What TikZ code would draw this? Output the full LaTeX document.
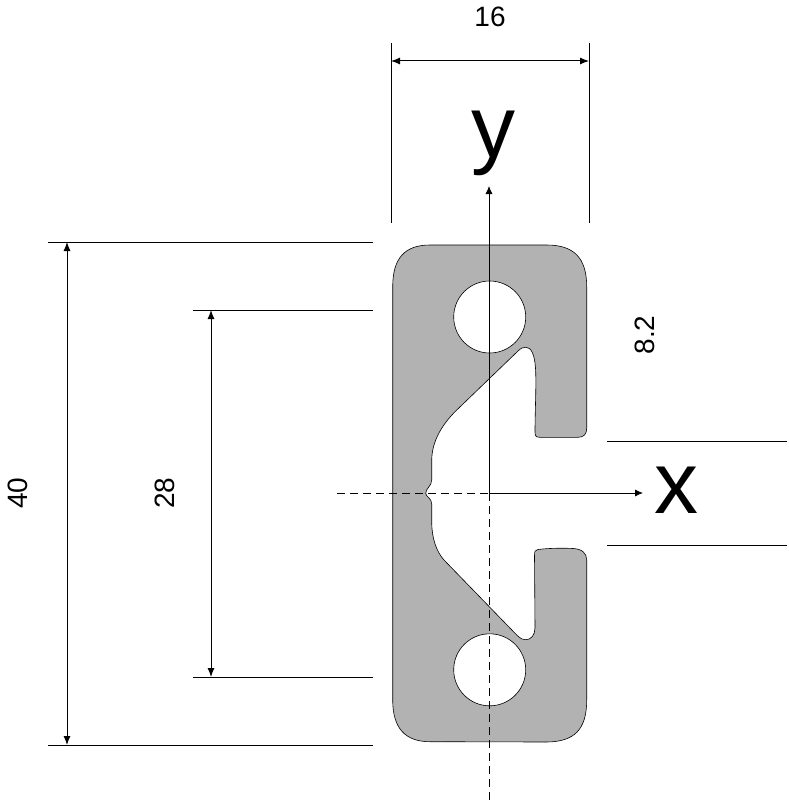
\documentclass[tikz,border=0pt]{standalone}
\usepackage{fontspec}
\setmainfont{Liberation Sans}
\usetikzlibrary{arrows.meta}
\definecolor{profilegray}{HTML}{B2B2B2}
\tikzset{
  dimline/.style={line width=1pt, black},
  dimarrow/.style={line width=1pt, black, {Latex[length=9pt,width=7pt]}-{Latex[length=9pt,width=7pt]}},
  axisline/.style={line width=0.8pt, black, -{Latex[length=8pt,width=7pt]}},
  centerline/.style={line width=0.8pt, black, dash pattern=on 8pt off 5pt},
  dimtext/.style={font=\fontsize{28}{28}\selectfont, inner sep=0pt},
  axistext/.style={font=\fontsize{88}{88}\selectfont, inner sep=0pt}
}
\begin{document}
\begin{tikzpicture}[x=1pt, y=-1pt]
\useasboundingbox (0,0) rectangle (788,800);

% Profile with its two holes
\draw[fill=profilegray, line width=0.6pt, even odd rule]
  (430,245) -- (546.7,245)
  .. controls (574,245) and (586.7,258) .. (586.7,286.7)
  -- (586.7,428)
  .. controls (586.7,434) and (584,437.3) .. (578,437.3)
  -- (540,437.3)
  .. controls (536,437.3) and (535,436) .. (535,432)
  .. controls (535,410) and (536.5,385) .. (535.5,368)
  .. controls (534.5,354) and (531,347.3) .. (526,347.3)
  .. controls (523,347.3) and (521,348) .. (518,351)
  -- (455,411.7)
  .. controls (441,426) and (432,442) .. (431.7,460)
  -- (431.7,480)
  .. controls (431.7,486) and (426,488) .. (425.7,493.3)
  .. controls (426,497) and (431.7,498) .. (431.7,504)
  -- (431.7,523)
  .. controls (432,538) and (436,551) .. (444,560)
  -- (516.7,635)
  .. controls (521,639.5) and (524,639.7) .. (526,639.7)
  .. controls (531,639.7) and (535,635) .. (535,628)
  -- (534.5,556)
  .. controls (534.5,551) and (535,550) .. (538,549.5)
  .. controls (550,548) and (565,548) .. (573,548.5)
  .. controls (582,549) and (586.7,553) .. (586.7,560)
  -- (586.7,700)
  .. controls (586.7,730) and (574,741.7) .. (546.7,742)
  -- (430,741.7)
  .. controls (405,741.7) and (392.7,728) .. (392.7,700)
  -- (392.7,286.7)
  .. controls (392.7,258) and (405,245) .. (430,245) -- cycle
  (489.7,317) ++(36,0) arc[start angle=0, end angle=360, radius=36]
  (489.7,669.8) ++(36,0) arc[start angle=0, end angle=360, radius=36];

% Axes
\coordinate (origin) at (489,493);
\coordinate (xstart) at (337,493);
\coordinate (xend) at (643,493);
\coordinate (ystart) at (489,800);
\coordinate (yend) at (489,186);
\draw[centerline] (xstart) -- (origin);
\draw[centerline] (origin) -- (ystart);
\draw[axisline] (origin) -- (xend);
\draw[axisline] (origin) -- (yend);
\node[axistext] (xlabel) at (676,490) {x};
\node[axistext] (ylabel) at (493,143) {y};

% Width 16
\coordinate (wleft) at (391,43);
\coordinate (wleftend) at (391,223);
\coordinate (wright) at (589,43);
\coordinate (wrightend) at (589,223);
\coordinate (warrowl) at (391,61);
\coordinate (warrowr) at (589,61);
\draw[dimline] (wleft) -- (wleftend);
\draw[dimline] (wright) -- (wrightend);
\draw[dimarrow] (warrowl) -- (warrowr);
\node[dimtext] (wlabel) at (490,17) {16};

% Height 40
\coordinate (htop) at (48,242);
\coordinate (htopend) at (373,242);
\coordinate (hbot) at (48,745);
\coordinate (hbotend) at (373,745);
\coordinate (harrowt) at (67,242);
\coordinate (harrowb) at (67,745);
\draw[dimline] (htop) -- (htopend);
\draw[dimline] (hbot) -- (hbotend);
\draw[dimarrow] (harrowt) -- (harrowb);
\node[dimtext, rotate=90] (hlabel) at (18,493) {40};

% Hole distance 28
\coordinate (dtop) at (193,310);
\coordinate (dtopend) at (373,310);
\coordinate (dbot) at (193,677);
\coordinate (dbotend) at (373,677);
\coordinate (darrowt) at (211,310);
\coordinate (darrowb) at (211,677);
\draw[dimline] (dtop) -- (dtopend);
\draw[dimline] (dbot) -- (dbotend);
\draw[dimarrow] (darrowt) -- (darrowb);
\node[dimtext, rotate=90] (dlabel) at (165,493) {28};

% Slot 8.2
\coordinate (stop) at (607,441);
\coordinate (stopend) at (787,441);
\coordinate (sbot) at (607,545);
\coordinate (sbotend) at (787,545);
\draw[dimline] (stop) -- (stopend);
\draw[dimline] (sbot) -- (sbotend);
\node[dimtext, rotate=90] (slabel) at (645,335) {8.2};
\end{tikzpicture}
\end{document}
